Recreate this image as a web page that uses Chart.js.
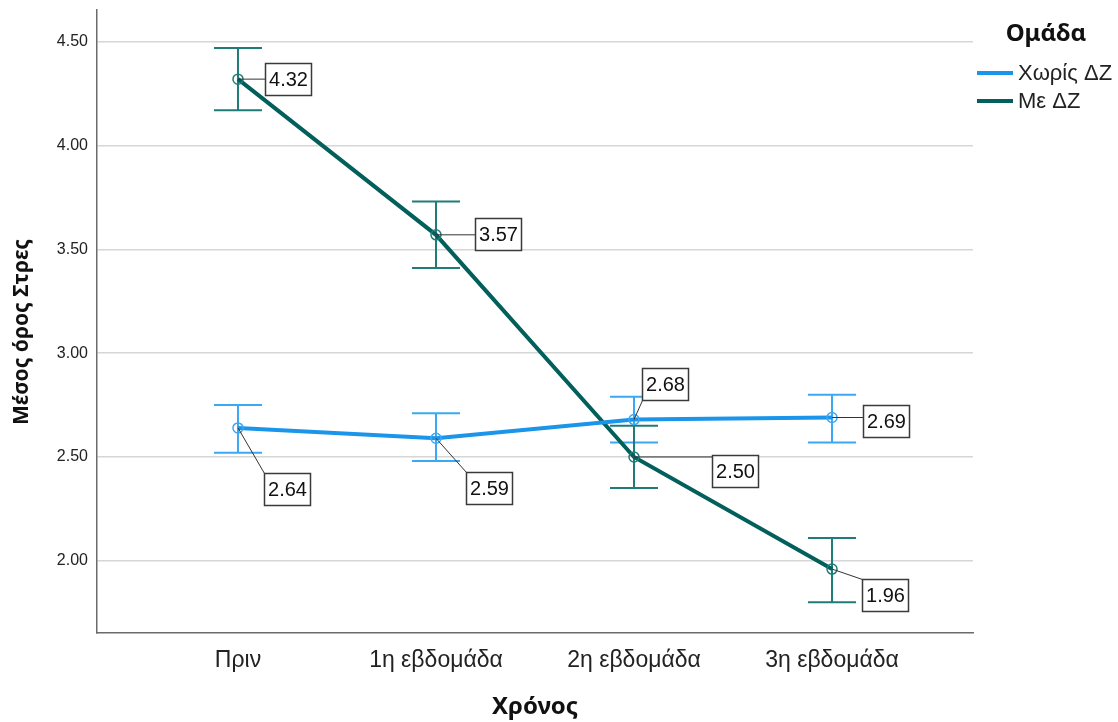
<!DOCTYPE html>
<html>
<head>
<meta charset="utf-8">
<script src="https://cdn.jsdelivr.net/npm/chart.js@4/dist/chart.umd.min.js"></script>
<style>
  html, body { margin: 0; padding: 0; background: #ffffff; }
  #wrap { width: 1118px; height: 722px; position: relative; }
</style>
</head>
<body>
<div id="wrap"><canvas id="c" width="1118" height="722"></canvas></div>
<script>
// Time points
const categories = ['Πριν', '1η εβδομάδα', '2η εβδομάδα', '3η εβδομάδα'];
// Group labels
const groupNames = ['Χωρίς ΔΖ', 'Με ΔΖ'];
// Mean stress per time point
const meanWithout = [2.64, 2.59, 2.68, 2.69];
const meanWith = [4.32, 3.57, 2.50, 1.96];
// Error bar limits
const lowWithout = [2.52, 2.48, 2.57, 2.57];
const highWithout = [2.75, 2.71, 2.79, 2.80];
const lowWith = [4.17, 3.41, 2.35, 1.80];
const highWith = [4.47, 3.73, 2.65, 2.11];
// Y axis tick values
const yTicks = [2.00, 2.50, 3.00, 3.50, 4.00, 4.50];

const BLUE = '#1b95ea';
const BLUE_ERR = '#3aa8f2';
const TEAL = '#025f5b';
const TEAL_ERR = '#1f7c78';

const FONT = "'Liberation Sans', Arial, sans-serif";
const BOLD = "'Noto Sans', 'Open Sans', sans-serif";

// Label box placement relative to each point (pixels)
const labelOffsets = [
  [[26, 45], [30, 34], [8, -52], [31, -13]],
  [[27, -16], [39, -17], [78, -2], [30, 10]]
];

const errorBarPlugin = {
  id: 'errorBars',
  beforeDatasetsDraw(chart) {
    const { ctx, scales: { x, y } } = chart;
    const sets = [[lowWithout, highWithout, BLUE_ERR], [lowWith, highWith, TEAL_ERR]];
    ctx.save();
    ctx.lineWidth = 2;
    sets.forEach(([lo, hi, col]) => {
      ctx.strokeStyle = col;
      lo.forEach((v, i) => {
        const px = x.getPixelForValue(i);
        const y1 = y.getPixelForValue(v);
        const y2 = y.getPixelForValue(hi[i]);
        ctx.beginPath();
        ctx.moveTo(px, y1); ctx.lineTo(px, y2);
        ctx.moveTo(px - 24, y1); ctx.lineTo(px + 24, y1);
        ctx.moveTo(px - 24, y2); ctx.lineTo(px + 24, y2);
        ctx.stroke();
      });
    });
    ctx.restore();
  }
};

const valueLabelPlugin = {
  id: 'valueLabels',
  afterDatasetsDraw(chart) {
    const { ctx, scales: { x, y } } = chart;
    const series = [meanWithout, meanWith];
    const bw = 46, bh = 32;
    ctx.save();
    ctx.font = '20px ' + FONT;
    ctx.textAlign = 'center';
    ctx.textBaseline = 'middle';
    series.forEach((vals, s) => {
      vals.forEach((v, i) => {
        const px = x.getPixelForValue(i);
        const py = y.getPixelForValue(v);
        const bx = Math.round(px + labelOffsets[s][i][0]) + 0.5;
        const by = Math.round(py + labelOffsets[s][i][1]) + 0.5;
        const tx = Math.min(Math.max(px, bx), bx + bw);
        const ty = Math.min(Math.max(py, by), by + bh);
        ctx.strokeStyle = '#333333';
        ctx.lineWidth = 1;
        ctx.beginPath();
        ctx.moveTo(px, py); ctx.lineTo(tx, ty);
        ctx.stroke();
        ctx.fillStyle = '#ffffff';
        ctx.fillRect(bx, by, bw, bh);
        ctx.lineWidth = 1.5;
        ctx.strokeStyle = '#3a3a3a';
        ctx.strokeRect(bx, by, bw, bh);
        ctx.fillStyle = '#111111';
        ctx.fillText(v.toFixed(2), bx + bw / 2, by + bh / 2 + 1);
      });
    });
    ctx.restore();
  }
};

const decorPlugin = {
  id: 'decor',
  afterDraw(chart) {
    const { ctx, chartArea } = chart;
    ctx.save();
    ctx.fillStyle = '#111111';
    ctx.textAlign = 'center';
    ctx.textBaseline = 'middle';
    // axis titles
    ctx.font = 'bold 24px ' + BOLD;
    ctx.fillText('Χρόνος', (chartArea.left + chartArea.right) / 2, 707);
    ctx.save();
    ctx.translate(22, 332);
    ctx.rotate(-Math.PI / 2);
    ctx.font = 'bold 21px ' + BOLD;
    ctx.fillText('Μέσος όρος Στρες', 0, 0);
    ctx.restore();
    // legend
    ctx.font = 'bold 24px ' + BOLD;
    ctx.fillText('Ομάδα', 1046, 34);
    const cols = [BLUE, TEAL];
    const ys = [73, 101];
    ctx.font = '22px ' + FONT;
    ctx.textAlign = 'left';
    groupNames.forEach((n, k) => {
      ctx.strokeStyle = cols[k];
      ctx.lineWidth = 4;
      ctx.beginPath();
      ctx.moveTo(977, ys[k]); ctx.lineTo(1013, ys[k]);
      ctx.stroke();
      ctx.fillStyle = '#222222';
      ctx.fillText(n, 1018, ys[k] + 1);
    });
    ctx.restore();
  }
};

const toPoints = arr => arr.map((v, i) => ({ x: i, y: v }));

new Chart(document.getElementById('c'), {
  type: 'line',
  data: {
    datasets: [
      {
        label: groupNames[0],
        data: toPoints(meanWithout),
        borderColor: BLUE,
        borderWidth: 4,
        pointRadius: 5,
        pointBorderWidth: 1.5,
        pointBorderColor: BLUE_ERR,
        pointBackgroundColor: 'rgba(255,255,255,0)',
        tension: 0
      },
      {
        label: groupNames[1],
        data: toPoints(meanWith),
        borderColor: TEAL,
        borderWidth: 4,
        pointRadius: 5,
        pointBorderWidth: 1.5,
        pointBorderColor: TEAL_ERR,
        pointBackgroundColor: 'rgba(255,255,255,0)',
        tension: 0
      }
    ]
  },
  options: {
    responsive: false,
    animation: false,
    layout: { padding: { top: 10, right: 145, left: 0, bottom: 0 } },
    plugins: { legend: { display: false }, tooltip: { enabled: false } },
    scales: {
      x: {
        type: 'linear',
        min: -0.712,
        max: 3.712,
        afterFit(scale) { scale.height = 89; scale.paddingLeft = 0; scale.paddingRight = 0; },
        afterBuildTicks(scale) { scale.ticks = categories.map((c, i) => ({ value: i })); },
        grid: { display: false, drawTicks: false },
        border: { display: true, color: '#6b6b6b', width: 1.5 },
        ticks: {
          padding: 14,
          color: '#222222',
          font: { family: FONT, size: 23 },
          autoSkip: false,
          maxRotation: 0,
          callback: v => categories[v]
        }
      },
      y: {
        type: 'linear',
        min: 1.652,
        max: 4.653,
        afterFit(scale) { scale.width = 97; scale.paddingTop = 0; scale.paddingBottom = 0; },
        afterBuildTicks(scale) { scale.ticks = yTicks.map(v => ({ value: v })); },
        grid: { color: '#d6d6d6', lineWidth: 1.5, drawTicks: false },
        border: { display: true, color: '#6b6b6b', width: 1.5 },
        ticks: {
          padding: 9,
          color: '#222222',
          font: { family: FONT, size: 16 },
          callback: v => Number(v).toFixed(2)
        }
      }
    }
  },
  plugins: [errorBarPlugin, valueLabelPlugin, decorPlugin]
});
</script>
</body>
</html>
